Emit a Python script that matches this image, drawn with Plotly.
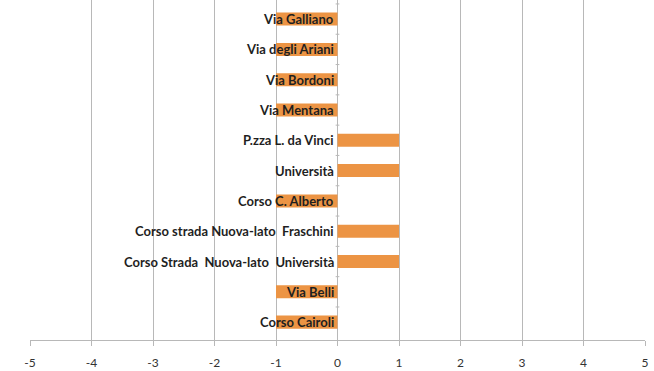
import plotly.graph_objects as go

# Street names, top to bottom, and their scores
streets = [
    "Via Galliano",
    "Via degli Ariani",
    "Via Bordoni",
    "Via Mentana",
    "P.zza L. da Vinci",
    "Università",
    "Corso C. Alberto",
    "Corso strada Nuova-lato  Fraschini",
    "Corso Strada  Nuova-lato  Università",
    "Via Belli",
    "Corso Cairoli",
]
scores = [-1, -1, -1, -1, 1, 1, -1, 1, 1, -1, -1]
x_ticks = [-5, -4, -3, -2, -1, 0, 1, 2, 3, 4, 5]

bar_color = "#EC9444"
grid_color = "#B8B8B8"
text_color = "#1F1F1F"

fig = go.Figure()
fig.add_trace(go.Bar(
    x=scores,
    y=list(range(len(streets))),
    orientation="h",
    width=0.43,
    marker=dict(color=bar_color, line=dict(width=0)),
    hoverinfo="skip",
))

# Category names sit just left of the zero line
for i, name in enumerate(streets):
    fig.add_annotation(
        x=0, y=i, xref="x", yref="y",
        text="<b>" + name + "</b>",
        showarrow=False, xanchor="right", yanchor="middle", xshift=-2,
        font=dict(family="Lato", size=13, color=text_color),
    )

fig.update_layout(
    width=654, height=371,
    margin=dict(l=30, r=9, t=0, b=31),
    paper_bgcolor="white", plot_bgcolor="white",
    showlegend=False,
    xaxis=dict(
        range=[-5, 5],
        tickvals=x_ticks,
        ticktext=[str(v) for v in x_ticks],
        showgrid=True, gridcolor=grid_color, gridwidth=1,
        zeroline=False,
        showline=True, linecolor=grid_color, linewidth=1,
        ticks="outside", ticklen=5, tickcolor=grid_color,
        ticklabelstandoff=7,
        tickfont=dict(family="Lato", size=12, color="#333333"),
    ),
    yaxis=dict(
        range=[10.59, -0.63],
        tickmode="array",
        tickvals=list(range(len(streets))),
        showticklabels=False,
        showgrid=False, zeroline=False,
        showline=False,
    ),
)

# Vertical axis at x = 0 with short ticks between categories
fig.add_shape(type="line", xref="x", yref="paper", x0=0, x1=0, y0=0, y1=1,
              line=dict(color=grid_color, width=1), layer="below")
for i in range(len(streets)):
    fig.add_shape(type="line", xref="x", yref="y", x0=-0.03, x1=0.03,
                  y0=i - 0.5, y1=i - 0.5,
                  line=dict(color=grid_color, width=1), layer="below")

fig.write_html("out.html")
